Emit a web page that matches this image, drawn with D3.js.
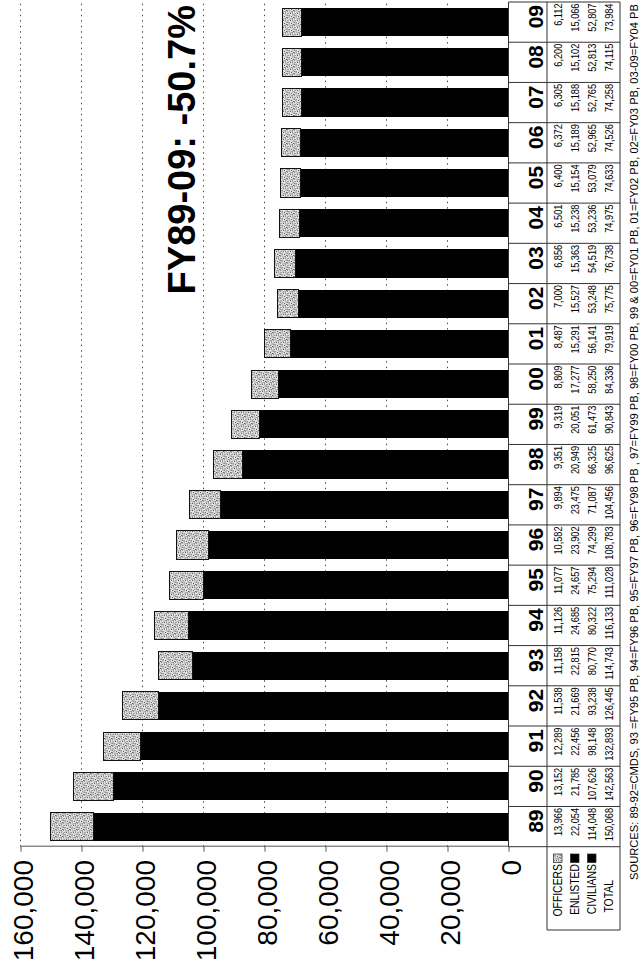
<!DOCTYPE html>
<html>
<head>
<meta charset="utf-8">
<script src="https://cdn.jsdelivr.net/npm/d3@7"></script>
<style>
	body { margin: 0; background: #fff; }
	svg { display: block; font-family: "Liberation Sans", Arial, sans-serif; }
</style>
</head>
<body>
<svg width="642" height="966"></svg>
<script>
// fiscal years 89 .. 09
const years = ["89", "90", "91", "92", "93", "94", "95", "96", "97", "98", "99", "00", "01", "02", "03", "04", "05", "06", "07", "08", "09"];
const officers = [13966, 13152, 12289, 11538, 11158, 11126, 11077, 10582, 9894, 9351, 9319, 8809, 8487, 7000, 6856, 6501, 6400, 6372, 6305, 6200, 6112];
const enlisted = [22054, 21785, 22456, 21669, 22815, 24685, 24657, 23902, 23475, 20949, 20051, 17277, 15291, 15527, 15363, 15238, 15154, 15189, 15188, 15102, 15066];
const civilians = [114048, 107626, 98148, 93238, 80770, 80322, 75294, 74299, 71087, 66325, 61473, 58250, 56141, 53248, 54519, 53236, 53079, 52965, 52765, 52813, 52807];
const totals = [150068, 142563, 132893, 126445, 114743, 116133, 111028, 108783, 104456, 96625, 90843, 84336, 79919, 75775, 76738, 74975, 74633, 74526, 74258, 74115, 73984];
const valueTicks = [0, 20000, 40000, 60000, 80000, 100000, 120000, 140000, 160000];
const rowLabels = ["OFFICERS", "ENLISTED", "CIVILIANS", "TOTAL"];
const titleText = "FY89-09: -50.7%";
const sourceText = "SOURCES:  89-92=CMDS, 93 =FY95 PB, 94=FY96 PB, 95=FY97 PB, 96=FY98 PB , 97=FY99 PB, 98=FY00 PB, 99 & 00=FY01 PB, 01=FY02 PB, 02=FY03 PB, 03-09=FY04 PB";

const svg = d3.select("svg");
// the page is a landscape chart turned a quarter turn to the left
const g = svg.append("g").attr("transform", "translate(0,966) rotate(-90)");

const plotLeft = 119.3;
const plotRight = 964;
const x = d3.scaleBand().domain(years).range([plotLeft, plotRight]).paddingInner(0.3).paddingOuter(0.15);
const y = d3.scaleLinear().domain([0, 160000]).range([508.5, 20.5]);
const step = x.step();
const cellStart = (d) => x(d) - step * 0.15;
const squeeze = 0.8; // the scanned table font is a narrow face

// stipple fill for the officers block
const pat = svg.append("defs").append("pattern")
	.attr("id", "stipple")
	.attr("width", 7)
	.attr("height", 7)
	.attr("patternUnits", "userSpaceOnUse");
pat.append("rect").attr("width", 7).attr("height", 7).attr("fill", "#e0e0e0");
const dots = [[0.5, 1], [3, 0.5], [5.5, 2], [2, 3], [4.5, 4.5], [1, 5.5], [6, 6], [3.5, 6.5], [0.5, 3.5], [5.8, 0.2], [2.5, 5], [4, 2]];
pat.selectAll("circle").data(dots).join("circle")
	.attr("cx", (d) => d[0])
	.attr("cy", (d) => d[1])
	.attr("r", 0.55)
	.attr("fill", "#444");

// dotted grid
g.append("g")
	.selectAll("line")
	.data(valueTicks.slice(1))
	.join("line")
	.attr("x1", plotLeft)
	.attr("x2", 966)
	.attr("y1", (d) => y(d))
	.attr("y2", (d) => y(d))
	.attr("stroke", "#333")
	.attr("stroke-width", 0.9)
	.attr("stroke-dasharray", "1.5,4");

// value axis
const axis = g.append("g")
	.attr("transform", "translate(" + plotLeft + ",0)")
	.call(d3.axisLeft(y).tickValues(valueTicks).tickFormat(d3.format(",")).tickSize(5).tickSizeOuter(0).tickPadding(8.3));
axis.select(".domain").attr("stroke", "#555");
axis.selectAll(".tick line").attr("stroke", "#555");
axis.selectAll(".tick text")
	.attr("font-family", "Liberation Sans, Arial, sans-serif")
	.attr("font-size", 28)
	.attr("dy", "0.43em")
	.attr("fill", "#000");

// bars (civilians and enlisted both solid black, officers stippled on top)
const bars = g.append("g").attr("shape-rendering", "crispEdges");
years.forEach((yr, i) => {
	const c = civilians[i];
	const e = c + enlisted[i];
	const t = e + officers[i];
	bars.append("rect")
		.attr("x", x(yr))
		.attr("width", x.bandwidth())
		.attr("y", y(c))
		.attr("height", y(0) - y(c))
		.attr("fill", "#000");
	bars.append("rect")
		.attr("x", x(yr))
		.attr("width", x.bandwidth())
		.attr("y", y(e))
		.attr("height", y(c) - y(e) + 1)
		.attr("fill", "#000");
	bars.append("rect")
		.attr("x", x(yr))
		.attr("width", x.bandwidth())
		.attr("y", y(t))
		.attr("height", y(e) - y(t))
		.attr("fill", "url(#stipple)")
		.attr("stroke", "#111")
		.attr("stroke-width", 1);
});

// title
g.append("text")
	.attr("x", 961)
	.attr("y", 195)
	.attr("text-anchor", "end")
	.attr("font-size", 38)
	.attr("font-weight", "bold")
	.text(titleText);

// table under the bars
const tTop = y(0);
const tMid = 547;
const tBot = 620;
const hdrLeft = 36;
const rowBase = [562, 579, 596, 613];
const table = g.append("g").attr("stroke", "#333").attr("stroke-width", 1);
const bounds = years.map(cellStart).concat([plotRight]);
table.selectAll("line.col")
	.data(bounds)
	.join("line")
	.attr("class", "col")
	.attr("x1", (d) => d)
	.attr("x2", (d) => d)
	.attr("y1", tTop)
	.attr("y2", tBot);
table.append("line").attr("x1", hdrLeft).attr("x2", plotRight).attr("y1", tMid).attr("y2", tMid);
table.append("line").attr("x1", hdrLeft).attr("x2", plotRight).attr("y1", tBot).attr("y2", tBot);
table.append("line").attr("x1", hdrLeft).attr("x2", hdrLeft).attr("y1", tMid).attr("y2", tBot);
table.append("line").attr("x1", plotLeft).attr("x2", plotRight).attr("y1", tTop).attr("y2", tTop);

const fmt = d3.format(",");
g.append("g")
	.selectAll("text")
	.data(years)
	.join("text")
	.attr("x", (d) => cellStart(d) + step - 3)
	.attr("y", 543)
	.attr("text-anchor", "end")
	.attr("font-size", 21)
	.attr("font-weight", "bold")
	.text((d) => d);

[officers, enlisted, civilians, totals].forEach((row, r) => {
	g.append("g")
		.selectAll("text")
		.data(row)
		.join("text")
		.attr("transform", (d, i) => "translate(" + (cellStart(years[i]) + step - 1.5) + "," + rowBase[r] + ") scale(" + squeeze + ",1)")
		.attr("text-anchor", "end")
		.attr("font-size", 11.5)
		.text((d) => fmt(d));
});

// row labels with legend swatches
rowLabels.forEach((lab, r) => {
	g.append("text")
		.attr("transform", "translate(" + (r < 3 ? 102 : 86) + "," + rowBase[r] + ") scale(" + squeeze + ",1)")
		.attr("text-anchor", "end")
		.attr("font-size", 13)
		.text(lab);
	if (r < 3) {
		g.append("rect")
			.attr("x", 103.5)
			.attr("y", rowBase[r] - 8.5)
			.attr("width", 8.5)
			.attr("height", 8.5)
			.attr("fill", r === 0 ? "url(#stipple)" : "#000")
			.attr("stroke", "#222")
			.attr("stroke-width", 0.7);
	}
});

// sources line
g.append("text")
	.attr("x", 86)
	.attr("y", 638)
	.attr("font-size", 11)
	.attr("textLength", 876)
	.attr("lengthAdjust", "spacingAndGlyphs")
	.text(sourceText);
</script>
</body>
</html>
